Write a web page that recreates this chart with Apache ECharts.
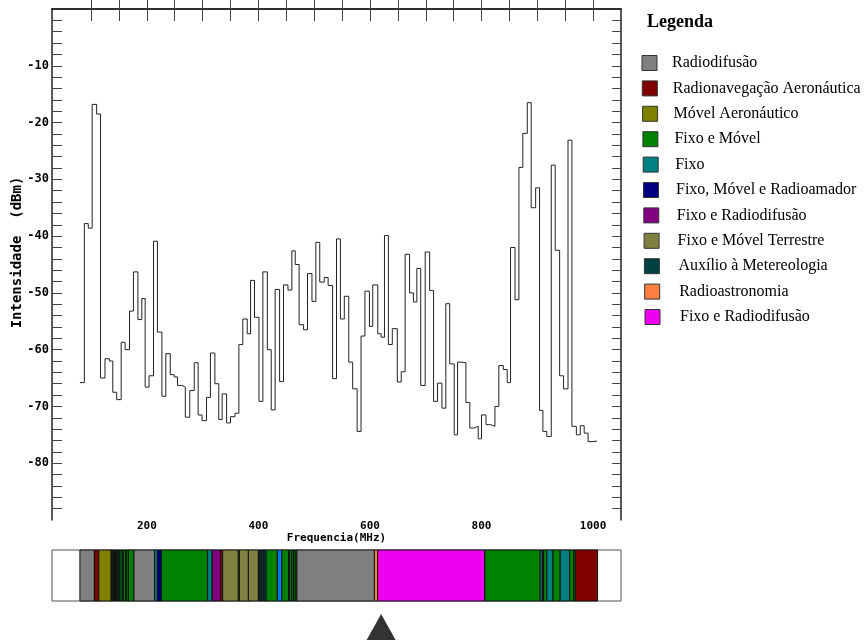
<!DOCTYPE html>
<html>
<head>
<meta charset="utf-8">
<title>Espectro</title>
<script src="https://cdn.jsdelivr.net/npm/echarts@6/dist/echarts.min.js"></script>
<style>
html,body{margin:0;padding:0;background:#fff;}
#chart{width:866px;height:643px;}
</style>
</head>
<body>
<div id="chart"></div>
<script>
// bordas dos degraus (MHz), uma a mais que os valores
const freqEdges = [80,88,95,102,110,117,125,133,139,146,154,161,169,176,184,191,197,204,212,219,
  227,234,242,249,255,263,269,277,285,292,299,307,314,322,329,335,343,350,358,365,
  372,380,386,393,401,408,416,423,430,438,445,453,460,466,473,481,488,496,503,510,
  518,525,533,540,547,554,562,569,577,584,591,599,605,614,620,626,633,640,649,656,
  663,671,678,684,691,699,707,714,721,729,736,743,751,757,765,772,779,787,794,800,
  808,816,824,831,839,846,852,860,867,874,882,889,897,904,910,917,925,932,940,947,
  955,962,970,977,984,991,998,1007]
// intensidade de cada degrau (dBm)
const intensity = [-65.8,-37.8,-38.6,-16.8,-18.5,-65.0,-61.6,-62.0,-67.5,-68.8,-58.7,-60.0,-53.2,-46.3,-54.7,-51.0,-66.6,-64.6,-40.9,-56.9,
  -68.2,-60.7,-64.4,-64.8,-66.3,-66.6,-71.9,-67.2,-62.3,-71.5,-72.5,-68.4,-60.6,-66.0,-72.3,-67.8,-72.9,-71.8,-71.2,-59.1,
  -54.6,-57.2,-47.8,-54.3,-69.1,-46.3,-60.0,-70.6,-49.4,-65.6,-48.6,-49.5,-42.6,-45.0,-55.6,-56.5,-46.6,-51.5,-41.1,-48.1,
  -47.3,-48.7,-65.1,-40.5,-54.6,-50.6,-62.2,-66.9,-74.4,-57.6,-49.7,-55.9,-48.6,-57.2,-57.8,-39.9,-59.1,-56.3,-65.7,-63.9,
  -43.2,-50.0,-51.6,-45.7,-66.3,-42.8,-49.6,-69.1,-65.9,-70.3,-51.9,-62.5,-75.0,-62.2,-62.3,-69.3,-73.8,-73.5,-75.7,-71.5,
  -73.2,-73.5,-70.0,-62.8,-63.5,-65.8,-42.0,-51.2,-27.9,-21.9,-16.5,-35.0,-31.5,-70.7,-74.4,-75.3,-27.5,-42.5,-64.6,-66.9,
  -23.1,-73.5,-75.0,-73.4,-74.7,-76.2,-76.1]

const xLabels = [200, 400, 600, 800, 1000]
const yLabels = [-80, -70, -60, -50, -40, -30, -20, -10]

// faixas de atribuicao (MHz) e tipo (indice em typeColors)
const bandStart = [80,106,114,136,138,140,142,144,146,148,150,152,156,158,162,164,167,177,214,219,226,309,317,332,336,364,366,382,
  400,403,406,410,414,434,442,454,456,460,463,466,469,608,614,806,905,909,911,917,928,941,958,965,968]
const bandEnd = [106,114,136,138,140,142,144,146,148,150,152,156,158,162,164,167,177,214,219,226,309,317,332,336,364,366,382,400,
  403,406,410,414,434,442,454,456,460,463,466,469,608,614,806,905,909,911,917,928,941,958,965,968,1008]
const bandType = [0,1,2,8,3,3,4,3,3,4,3,3,3,3,3,3,3,0,4,5,3,4,6,1,7,7,7,7,
  8,8,8,8,3,11,3,3,3,3,3,3,0,9,10,3,4,3,3,4,3,4,3,3,1]

const legendNames = ['Radiodifusão','Radionavegação Aeronáutica','Móvel Aeronáutico','Fixo e Móvel','Fixo',
  'Fixo, Móvel e Radioamador','Fixo e Radiodifusão','Fixo e Móvel Terrestre','Auxílio à Metereologia',
  'Radioastronomia','Fixo e Radiodifusão']
const typeColors = ['#808080','#800000','#808000','#008000','#008080','#000080','#800080','#808040',
  '#004040','#ff8040','#ee00ee','#0078ff']

const markerFreq = [620]

let lineData = intensity.map(function (v, i) { return [freqEdges[i], v] })
lineData.push([freqEdges[freqEdges.length - 1], intensity[intensity.length - 1]])

let bandData = bandStart.map(function (s, i) { return [s, bandEnd[i], bandType[i]] })

let xTicks = []
for (let f = 100; f <= 1000; f += 50) xTicks.push(f)
let yTicks = []
for (let v = -88; v <= -2; v += 2) yTicks.push(v)

const axisFont = {fontFamily: 'DejaVu Sans Mono', fontWeight: 'bold', fontSize: 12, color: '#000'}

// legenda desenhada a mao (tem nome repetido)
let legendGraphic = [{
    type: 'text', left: 647, top: 13,
    style: {text: 'Legenda', font: 'bold 18px "Liberation Serif"', fill: '#000'}
}]
legendNames.forEach(function (name, i) {
    let yc = 63 + i * 25.4
    legendGraphic.push({
        type: 'rect', shape: {x: 642 + i * 0.3, y: yc - 7.5, width: 15, height: 15},
        style: {fill: typeColors[i], stroke: '#333', lineWidth: 1}
    })
    legendGraphic.push({
        type: 'text', x: 672 + i * 0.8, y: yc,
        style: {text: name, font: '16px "Liberation Serif"', fill: '#000', textVerticalAlign: 'middle'}
    })
})

let myChart = echarts.init(document.getElementById('chart'))

let option = {
    animation: false,
    backgroundColor: '#fff',
    grid: [
        {left: 52, right: 245, top: 9, bottom: 123, outerBoundsMode: 'none'},
        {left: 52, right: 245, top: 550, height: 51, outerBoundsMode: 'none', show: true, borderColor: '#555', borderWidth: 1, backgroundColor: '#fff'},
        {left: 52, right: 245, top: 614, height: 26, outerBoundsMode: 'none'}
    ],
    xAxis: [
        {
            gridIndex: 0, type: 'value', min: 30, max: 1050, position: 'bottom',
            name: 'Frequencia(MHz)', nameLocation: 'middle', nameGap: 13, nameMoveOverlap: false,
            nameTextStyle: Object.assign({}, axisFont, {fontSize: 11}),
            axisLine: {lineStyle: {color: '#222', width: 1.5}},
            axisTick: {inside: true, length: 12, customValues: xTicks, lineStyle: {color: '#444'}},
            axisLabel: Object.assign({customValues: xLabels, margin: 1, formatter: function (v) { return String(v) }}, axisFont, {fontSize: 11}),
            splitLine: {show: false}
        },
        {
            gridIndex: 0, type: 'value', min: 30, max: 1050, position: 'top',
            axisLine: {lineStyle: {color: '#222', width: 1.5}},
            axisTick: {inside: true, length: 12, customValues: xTicks, lineStyle: {color: '#444'}},
            axisLabel: {show: false},
            splitLine: {show: false}
        },
        {gridIndex: 1, type: 'value', min: 30, max: 1050, show: false},
        {gridIndex: 2, type: 'value', min: 30, max: 1050, show: false}
    ],
    yAxis: [
        {
            gridIndex: 0, type: 'value', min: -90, max: 0, position: 'left',
            name: 'Intensidade  (dBm)', nameLocation: 'middle', nameGap: 28, nameRotate: 90, nameMoveOverlap: false,
            nameTextStyle: Object.assign({padding: [0, 0, 0, 24]}, axisFont, {fontSize: 14}),
            axisLine: {show: true, lineStyle: {color: '#222', width: 1.5}},
            axisTick: {show: true, inside: true, length: 10, customValues: yTicks, lineStyle: {color: '#444'}},
            axisLabel: Object.assign({customValues: yLabels, margin: 3}, axisFont),
            splitLine: {show: false}
        },
        {
            gridIndex: 0, type: 'value', min: -90, max: 0, position: 'right',
            axisLine: {show: true, lineStyle: {color: '#222', width: 1.5}},
            axisTick: {show: true, inside: true, length: 9, customValues: yTicks, lineStyle: {color: '#444'}},
            axisLabel: {show: false},
            splitLine: {show: false}
        },
        {gridIndex: 1, type: 'value', min: 0, max: 1, show: false},
        {gridIndex: 2, type: 'value', min: -1, max: 1, show: false}
    ],
    graphic: legendGraphic,
    series: [
        {
            type: 'line', xAxisIndex: 0, yAxisIndex: 0,
            step: 'end', showSymbol: false,
            data: lineData,
            lineStyle: {color: '#222', width: 1}
        },
        {
            type: 'custom', xAxisIndex: 2, yAxisIndex: 2,
            data: bandData,
            encode: {x: [0, 1]},
            renderItem: function (params, api) {
                let s = api.coord([api.value(0), 1])
                let e = api.coord([api.value(1), 0])
                return {
                    type: 'rect',
                    shape: {x: s[0], y: s[1], width: e[0] - s[0], height: e[1] - s[1]},
                    style: {fill: typeColors[api.value(2)], stroke: '#111', lineWidth: 1}
                }
            }
        },
        {
            type: 'scatter', xAxisIndex: 3, yAxisIndex: 3,
            data: markerFreq.map(function (f) { return [f, 0] }),
            symbol: 'triangle', symbolSize: [29, 26],
            itemStyle: {color: '#000'}
        }
    ]
}
myChart.setOption(option)
</script>
</body>
</html>
